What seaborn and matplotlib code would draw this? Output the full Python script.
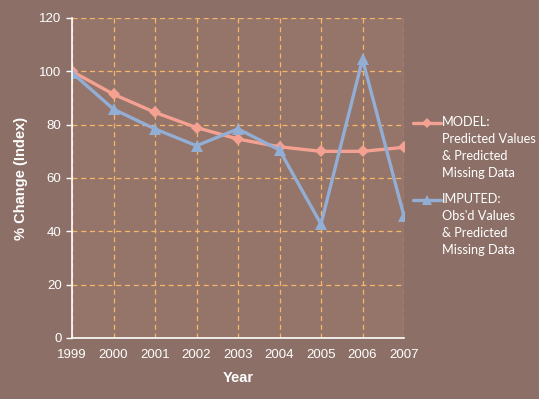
import pandas as pd
import seaborn as sns
import matplotlib.pyplot as plt
from matplotlib.lines import Line2D

years = [1999, 2000, 2001, 2002, 2003, 2004, 2005, 2006, 2007]
model = [100, 91.4, 84.6, 78.9, 74.6, 71.7, 70.0, 70.0, 71.5]
imputed = [99.5, 85.8, 78.4, 72.1, 78.4, 70.5, 42.7, 104.5, 45.7]
series = ['MODEL', 'IMPUTED']
legend_text = ['MODEL:\nPredicted Values\n& Predicted\nMissing Data',
               "IMPUTED:\nObs'd Values\n& Predicted\nMissing Data"]

df = pd.DataFrame({'Year': years * 2,
                   'value': model + imputed,
                   'series': [series[0]] * len(years) + [series[1]] * len(years)})

sns.set_style("white")
plt.rcParams['font.family'] = ['Liberation Sans', 'DejaVu Sans']

W, H = 539, 399
fig = plt.figure(figsize=(W / 100, H / 100), dpi=100, facecolor='#8c7067')
ax = fig.add_axes([72 / W, 1 - 338 / H, (404 - 72) / W, (338 - 18) / H])
ax.set_facecolor('#957469')

palette = {'MODEL': '#f4a192', 'IMPUTED': '#93aed4'}
markers = {'MODEL': 'D', 'IMPUTED': '^'}
sns.lineplot(data=df, x='Year', y='value', hue='series', style='series',
             palette=palette, markers=markers, dashes=False, linewidth=2.4,
             markeredgewidth=0, ax=ax, legend=False)
for ln in ax.lines:
    ln.set_markersize(9 if ln.get_marker() == '^' else 6)

ax.set_xlim(1999, 2007)
ax.set_ylim(0, 120)
ax.set_xticks(years)
ax.set_yticks(range(0, 121, 20))
ax.grid(True, color='#f5b66a', linestyle=(0, (4, 3)), linewidth=0.9)
for s in ['top', 'right']:
    ax.spines[s].set_visible(False)
for s in ['left', 'bottom']:
    ax.spines[s].set_color('white')
    ax.spines[s].set_linewidth(1.2)
ax.tick_params(axis='y', colors='white', length=4, width=1, direction='out', left=True, labelsize=9.5)
ax.tick_params(axis='x', colors='white', length=0, labelsize=9.5, pad=8)

ax.set_xlabel('Year', color='white', fontsize=10.5, fontweight='bold', labelpad=7)
ax.set_ylabel('% Change (Index)', color='white', fontsize=10.5, fontweight='bold', labelpad=8)

# legend on the right: handle next to first line of each block
for s, txt, ytop in zip(series, legend_text, [123, 200]):
    fy = 1 - ytop / H
    fig.add_artist(Line2D([413 / W, 441 / W], [fy, fy], transform=fig.transFigure,
                          color=palette[s], linewidth=2.4))
    fig.add_artist(Line2D([427 / W], [fy], transform=fig.transFigure, color=palette[s],
                          marker=markers[s], markersize=5 if s == 'MODEL' else 7,
                          markeredgewidth=0, linestyle='none'))
    fig.text(442 / W, 1 - (ytop - 7) / H, txt, color='white', family='Lato',
             fontsize=9.2, va='top', ha='left', linespacing=1.5)

fig.savefig('out.png', dpi=100, facecolor=fig.get_facecolor())
